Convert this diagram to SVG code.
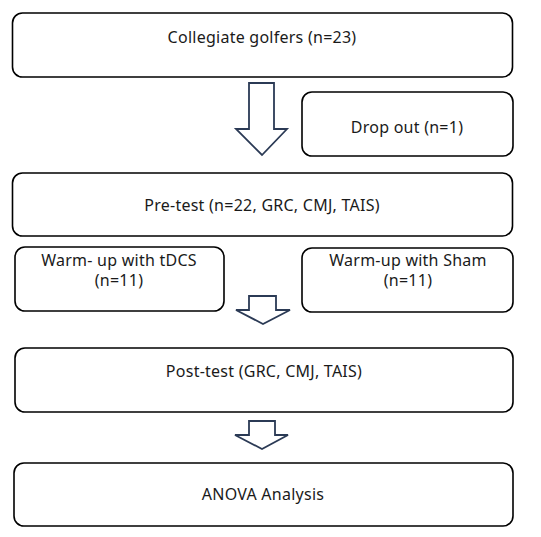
<svg xmlns="http://www.w3.org/2000/svg" width="541" height="537" viewBox="0 0 541 537">
<style>
.box{fill:#fff;stroke:#000;stroke-width:1.6}
.arr{fill:#fff;stroke:#2b3a55;stroke-width:1.8;stroke-linejoin:miter}
text{font-family:"Noto Sans","Liberation Sans",sans-serif;font-size:16px;letter-spacing:0.25px;fill:#1a1a1a;text-anchor:middle}
</style>
<rect width="541" height="537" fill="#fff"/>
<g id="n1"><rect class="box" x="12.5" y="13" width="500" height="64" rx="10"/><text x="262" y="43">Collegiate golfers (n=23)</text></g>
<g id="n2"><rect class="box" x="302" y="92" width="211" height="64" rx="10"/><text x="407" y="133">Drop out (n=1)</text></g>
<g id="n3"><rect class="box" x="12.5" y="173" width="500" height="63" rx="10"/><text x="262" y="211">Pre-test (n=22, GRC, CMJ, TAIS)</text></g>
<g id="n4"><rect class="box" x="15" y="247" width="209" height="64" rx="10"/><text x="119" y="266">Warm- up with tDCS</text><text x="119" y="286">(n=11)</text></g>
<g id="n5"><rect class="box" x="302" y="248" width="211" height="64" rx="10"/><text x="408" y="266">Warm-up with Sham</text><text x="408" y="286">(n=11)</text></g>
<g id="n6"><rect class="box" x="15" y="348" width="498" height="64" rx="10"/><text x="264" y="377">Post-test (GRC, CMJ, TAIS)</text></g>
<g id="n7"><rect class="box" x="14" y="463" width="499" height="63" rx="10"/><text x="263" y="500">ANOVA Analysis</text></g>
<g id="connectors">
<polygon class="arr" points="249,83 274,83 274,129 287,129 262,155 236,129 249,129"/>
<polygon class="arr" points="249,296 276,296 276,310 290,310 263,324 236,310 249,310"/>
<polygon class="arr" points="249,421 275,421 275,435 288,435 262,449 235,435 249,435"/>
</g>
</svg>
